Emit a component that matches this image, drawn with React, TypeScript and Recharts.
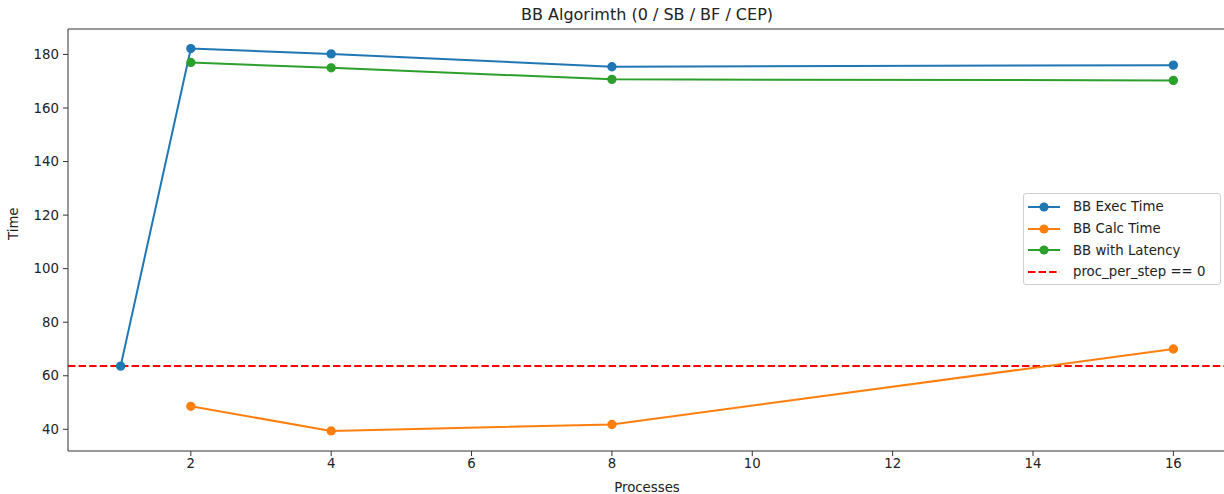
import { CartesianGrid, Line, LineChart, ReferenceLine, XAxis, YAxis, Label } from "recharts";

const processes = [1, 2, 4, 8, 16];
const execTime = [63.6, 182.2, 180.2, 175.4, 176.0];
const calcTime = [null, 48.6, 39.4, 41.8, 70.0];
const latencyTime = [null, 177.0, 175.0, 170.7, 170.3];
const procPerStepZero = 63.6;

const xTicks = [2, 4, 6, 8, 10, 12, 14, 16];
const yTicks = [40, 60, 80, 100, 120, 140, 160, 180];
const xDomain: [number, number] = [0.25, 16.75];
const yDomain: [number, number] = [31.9, 189.5];

const FONT = "'DejaVu Sans', sans-serif";
const AXIS = "#333";

const series = [
  { key: "exec", name: "BB Exec Time", color: "#1f77b4" },
  { key: "calc", name: "BB Calc Time", color: "#ff7f0e" },
  { key: "lat", name: "BB with Latency", color: "#2ca02c" },
];

const data = processes.map((p, i) => ({
  p,
  exec: execTime[i],
  calc: calcTime[i],
  lat: latencyTime[i],
}));

function LegendBox() {
  return (
    <div
      style={{
        position: "absolute",
        left: 1023,
        top: 193,
        width: 198,
        height: 92,
        border: "1px solid #d0d0d0",
        borderRadius: 3,
        background: "rgba(255,255,255,0.8)",
        fontFamily: FONT,
        fontSize: 13.3,
        color: "#222",
        boxSizing: "border-box",
        paddingTop: 2,
      }}
    >
      {series.map((s) => (
        <div key={s.key} style={{ display: "flex", alignItems: "center", height: 21.7 }}>
          <svg width={46} height={12} style={{ marginLeft: 3 }}>
            <line x1={1} x2={33} y1={6} y2={6} stroke={s.color} strokeWidth={2} />
            <circle cx={17} cy={6} r={4.6} fill={s.color} />
          </svg>
          <span>{s.name}</span>
        </div>
      ))}
      <div style={{ display: "flex", alignItems: "center", height: 21.7 }}>
        <svg width={46} height={12} style={{ marginLeft: 3 }}>
          <line x1={1} x2={33} y1={6} y2={6} stroke="#ff0000" strokeWidth={2} strokeDasharray="7.4 3.2" />
        </svg>
        <span>proc_per_step == 0</span>
      </div>
    </div>
  );
}

export default function App() {
  return (
    <div
      style={{
        position: "absolute",
        left: 0,
        top: 0,
        width: 1224,
        height: 494,
        overflow: "hidden",
        background: "#fff",
      }}
    >
      <div
        style={{
          position: "absolute",
          left: 0,
          width: 1294,
          top: 5,
          textAlign: "center",
          fontFamily: FONT,
          fontSize: 16,
          color: "#222",
        }}
      >
        BB Algorimth (0 / SB / BF / CEP)
      </div>
      <LineChart
        width={1230}
        height={494}
        data={data}
        margin={{ top: 29, right: 4, left: 0, bottom: 0 }}
        style={{ fontFamily: FONT }}
      >
        <CartesianGrid horizontal={false} vertical={false} />
        <XAxis
          dataKey="p"
          type="number"
          domain={xDomain}
          ticks={xTicks}
          allowDataOverflow
          height={43}
          stroke={AXIS}
          tickSize={5}
          tickMargin={3}
          tick={{ fill: "#222", fontSize: 13.3 }}
        >
          <Label value="Processes" position="insideBottom" offset={2} fill="#222" fontSize={13.3} />
        </XAxis>
        <YAxis
          type="number"
          domain={yDomain}
          ticks={yTicks}
          allowDataOverflow
          width={68}
          stroke={AXIS}
          tickSize={5}
          tickMargin={4}
          tick={{ fill: "#222", fontSize: 13.3 }}
        >
          <Label value="Time" angle={-90} position="insideLeft" offset={13} fill="#222" fontSize={13.3} />
        </YAxis>
        <ReferenceLine y={yDomain[1]} stroke={AXIS} strokeWidth={1} />
        <ReferenceLine y={procPerStepZero} stroke="#ff0000" strokeWidth={2} strokeDasharray="7.4 3.2" />
        {series.map((s) => (
          <Line
            key={s.key}
            dataKey={s.key}
            name={s.name}
            stroke={s.color}
            strokeWidth={2}
            dot={{ r: 4, fill: s.color, stroke: s.color, strokeWidth: 1.3 }}
            activeDot={false}
            connectNulls={false}
            isAnimationActive={false}
          />
        ))}
      </LineChart>
      <LegendBox />
    </div>
  );
}
